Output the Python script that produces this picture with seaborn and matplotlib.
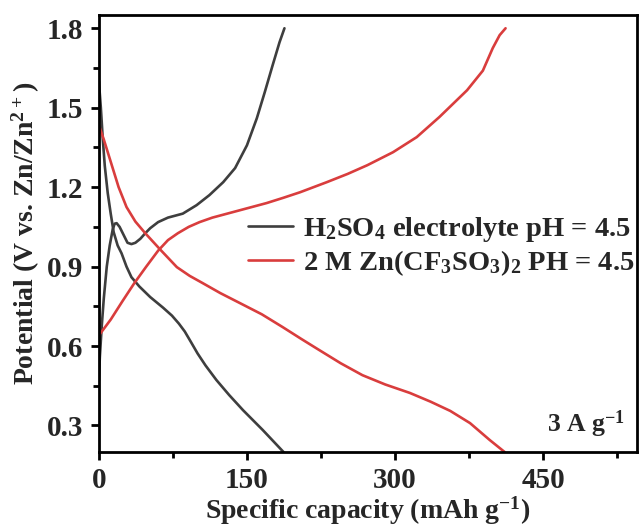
import pandas as pd
import numpy as np
import matplotlib
matplotlib.use('Agg')
import matplotlib.pyplot as plt
import seaborn as sns
from matplotlib.ticker import MultipleLocator

# H2SO4 electrolyte, discharge and charge branches (capacity mAh/g, potential V)
h2so4_dis_cap = [0, 2, 4, 6, 9, 12, 15, 19, 23, 28, 33, 41, 52, 65, 74, 81, 87, 93, 100, 108, 119, 132,
                 146, 166, 187]
h2so4_dis_pot = [1.60, 1.50, 1.38, 1.28, 1.177, 1.10, 1.03, 0.98, 0.95, 0.90, 0.86, 0.825, 0.785, 0.745,
                 0.715, 0.685, 0.655, 0.617, 0.572, 0.527, 0.472, 0.415, 0.358, 0.283, 0.20]
h2so4_chg_cap = [0, 1, 3, 5, 8, 11, 14, 16, 18, 21, 25, 29, 33, 37, 42, 47, 52, 60, 70, 85, 99, 112,
                 126, 138, 150, 160, 168, 176, 183, 188]
h2so4_chg_pot = [0.47, 0.56, 0.68, 0.78, 0.90, 0.98, 1.04, 1.062, 1.064, 1.05, 1.02, 0.99, 0.985, 0.99,
                 1.005, 1.026, 1.045, 1.068, 1.085, 1.10, 1.132, 1.17, 1.219, 1.272, 1.358, 1.46, 1.558,
                 1.66, 1.747, 1.80]

# 2 M Zn(CF3SO3)2 electrolyte
zn_dis_cap = [0, 5, 10, 15, 20, 28, 37, 47, 62, 79, 92, 105, 123, 143, 165, 186, 205, 221, 245, 267,
              290, 315, 336, 356, 376, 396, 411]
zn_dis_pot = [1.434, 1.38, 1.32, 1.26, 1.20, 1.125, 1.07, 1.026, 0.965, 0.898, 0.865, 0.838, 0.80, 0.762,
              0.72, 0.672, 0.627, 0.59, 0.535, 0.49, 0.455, 0.423, 0.39, 0.355, 0.309, 0.245, 0.20]
zn_chg_cap = [0, 12, 24, 36, 48, 60, 70, 80, 91, 102, 115, 132, 150, 170, 187, 204, 231, 252, 272, 298,
              322, 345, 373, 389, 399, 406, 412]
zn_chg_pot = [0.64, 0.70, 0.77, 0.838, 0.90, 0.96, 1.00, 1.026, 1.05, 1.068, 1.085, 1.102, 1.12, 1.14,
              1.16, 1.181, 1.219, 1.25, 1.283, 1.332, 1.389, 1.465, 1.566, 1.64, 1.725, 1.774, 1.80]

labels = ['H$_2$SO$_4$ electrolyte pH = 4.5', '2 M Zn(CF$_3$SO$_3$)$_2$ PH = 4.5']

frames = []
for lab, br, cap, pot in [(labels[0], 'a', h2so4_dis_cap, h2so4_dis_pot),
                          (labels[0], 'b', h2so4_chg_cap, h2so4_chg_pot),
                          (labels[1], 'c', zn_dis_cap, zn_dis_pot),
                          (labels[1], 'd', zn_chg_cap, zn_chg_pot)]:
    frames.append(pd.DataFrame({'capacity': cap, 'potential': pot,
                                'electrolyte': lab, 'branch': br}))
df = pd.concat(frames, ignore_index=True)

sns.set_style('ticks')
plt.rcParams['font.family'] = ['Liberation Serif', 'DejaVu Serif']
plt.rcParams['font.weight'] = 'bold'
plt.rcParams['mathtext.default'] = 'regular'

fig = plt.figure(figsize=(6.42, 5.29), dpi=100)
ax = fig.add_axes([0.154, 0.1456, 0.838, 0.826])

sns.lineplot(data=df, x='capacity', y='potential', hue='electrolyte', units='branch',
             estimator=None, sort=False, palette=['#3e3e3e', '#d93d3d'], linewidth=1.9, ax=ax)

ax.set_xlim(0, 545)
ax.set_ylim(0.2, 1.85)
ax.xaxis.set_major_locator(MultipleLocator(150))
ax.xaxis.set_minor_locator(MultipleLocator(75))
ax.yaxis.set_major_locator(MultipleLocator(0.3))
ax.yaxis.set_minor_locator(MultipleLocator(0.15))
ax.tick_params(which='major', length=6, width=2, labelsize=21, direction='out', pad=5, color='black')
ax.tick_params(which='minor', length=4, width=2, direction='out', color='black')
for s in ax.spines.values():
    s.set_linewidth(2)
    s.set_color('black')
for t in ax.get_xticklabels() + ax.get_yticklabels():
    t.set_fontweight('bold')

ax.set_xlabel('Specific capacity (mAh g$^{-1}$)', fontsize=20, fontweight='bold', labelpad=0)
ax.set_ylabel('Potential (V vs. Zn/Zn$^{2+}$)', fontsize=20, fontweight='bold', labelpad=4)

ax.text(0.978, (0.306 - 0.2) / 1.65, '3 A g$^{-1}$', transform=ax.transAxes, ha='right', va='center',
        fontsize=18.5, fontweight='bold')

leg = ax.legend(title=None, loc='center left', bbox_to_anchor=(0.277, 0.47), frameon=False,
                prop={'size': 20.5, 'weight': 'bold'}, handlelength=1.6, handletextpad=0.35,
                labelspacing=0.15, borderaxespad=0, borderpad=0)

fig.savefig('out.png', dpi=100)
